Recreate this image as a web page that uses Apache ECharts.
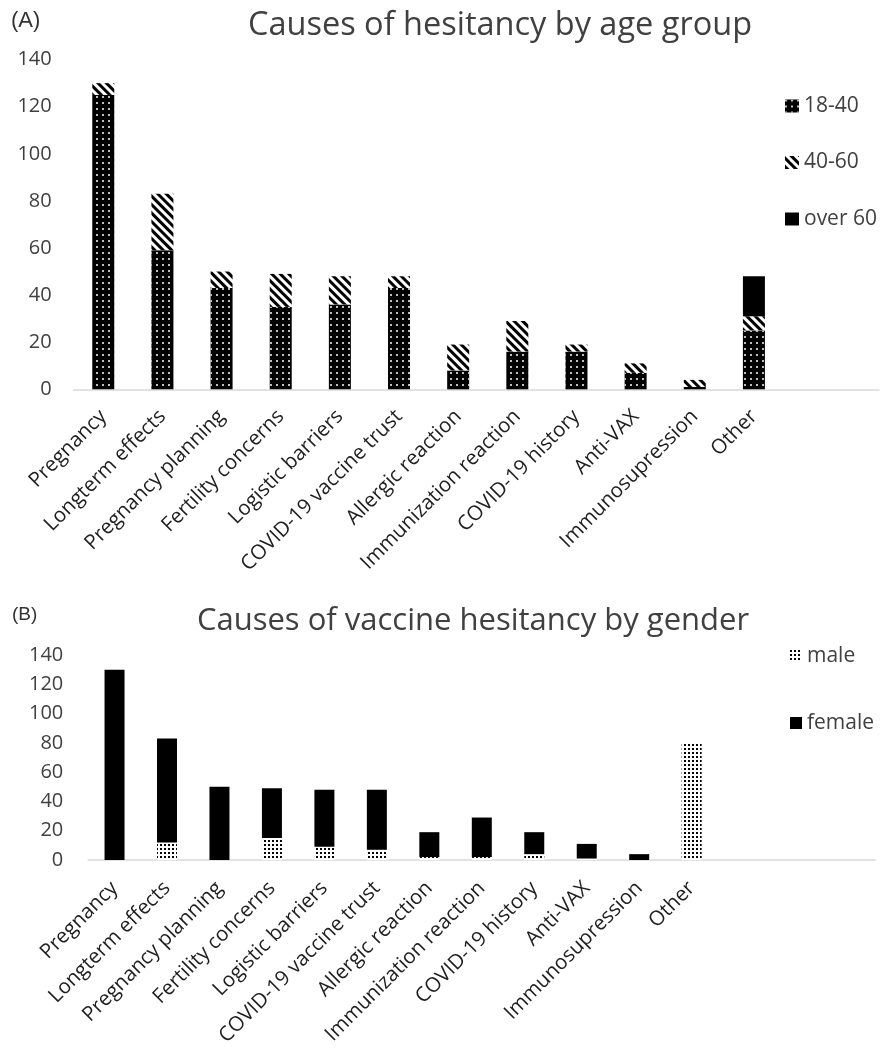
<!DOCTYPE html>
<html>
<head>
<meta charset="utf-8">
<script src="https://cdn.jsdelivr.net/npm/echarts@6/dist/echarts.min.js"></script>
<style>
html,body{margin:0;padding:0;background:#fff;}
#c{width:888px;height:1052px;}
</style>
</head>
<body>
<div id="c"></div>
<script>
// ---- data ----
var categories = ['Pregnancy','Longterm effects','Pregnancy planning','Fertility concerns','Logistic barriers','COVID-19 vaccine trust','Allergic reaction','Immunization reaction','COVID-19 history','Anti-VAX','Immunosupression','Other'];
var age18to40 = [125, 59, 43, 35, 36, 43, 8, 16, 16, 7, 1, 25];
var age40to60 = [5, 24, 7, 14, 12, 5, 11, 13, 3, 4, 3, 6];
var ageOver60 = [0, 0, 0, 0, 0, 0, 0, 0, 0, 0, 0, 17];
var male   = [0, 12, 0, 15, 9, 7, 2, 2, 4, 1, 0, 80];
var female = [130, 71, 50, 34, 39, 41, 17, 27, 15, 10, 4, 0];
var yTicks = [0, 20, 40, 60, 80, 100, 120, 140];
var titleA = 'Causes of hesitancy by age group';
var titleB = 'Causes of vaccine hesitancy by gender';
var seriesNamesA = ['18-40', '40-60', 'over 60'];
var seriesNamesB = ['male', 'female'];

var categoriesB = categories.concat(['', '', '']);

var FONT = 'Open Sans';
var dotDecal = {symbol:'circle', symbolSize:1, color:'#ffffff', backgroundColor:null, dashArrayX:[2,4], dashArrayY:[2,3.5], rotation:0};
var stripeDecal = {symbol:'rect', symbolSize:1, color:'#000000', backgroundColor:null, dashArrayX:[1,0], dashArrayY:[3,3], rotation:Math.PI/4};
var maleDecal = {symbol:'rect', symbolSize:1, color:'#000000', backgroundColor:null, dashArrayX:[1.5,1.5], dashArrayY:[1.5,1.5], rotation:0};

var gridA = {left:73.7, top:59.6, width:709.8, height:329.7};
var gridB = {left:88.3, top:655, width:787, height:205};

var yLabel = {fontFamily:FONT, fontSize:20, color:'#404040'};
var xLabel = {fontFamily:FONT, fontSize:20.5, color:'#1f1f1f', rotate:45, interval:0};

function legendAt(name, left, top, w, h){
  return {data:[{name:name, icon:'rect'}], left:left, top:top, orient:'vertical', padding:0, itemWidth:w, itemHeight:h,
    itemGap:0, selectedMode:false,
    textStyle:{fontFamily:FONT, fontSize:21, color:'#404040', lineHeight:22}};
}

var chart = echarts.init(document.getElementById('c'), null, {renderer:'canvas'});
chart.setOption({
  animation:false,
  backgroundColor:'#ffffff',
  title:[
    {text:'(A)', left:11, top:10, padding:0, textStyle:{fontFamily:'Liberation Sans', fontSize:22, fontWeight:'normal', color:'#333'}},
    {text:titleA, left:500, textAlign:'center', top:9, padding:0, textStyle:{fontFamily:FONT, fontSize:32.5, fontWeight:'normal', color:'#404040'}},
    {text:'(B)', left:12, top:605, padding:0, textStyle:{fontFamily:'Liberation Sans', fontSize:19, fontWeight:'normal', color:'#333'}},
    {text:titleB, left:473, textAlign:'center', top:606, padding:0, textStyle:{fontFamily:FONT, fontSize:31, fontWeight:'normal', color:'#404040'}}
  ],
  legend:[
    legendAt(seriesNamesA[0], 785, 95, 14, 13),
    legendAt(seriesNamesA[1], 785, 151.5, 14, 13),
    legendAt(seriesNamesA[2], 785, 208, 14, 13),
    legendAt(seriesNamesB[0], 790, 645, 12, 12),
    legendAt(seriesNamesB[1], 790, 712, 12, 12)
  ],
  grid:[
    gridA,
    {left:73.7, top:59.6, width:805.3, height:329.7},
    gridB
  ],
  xAxis:[
    {type:'category', gridIndex:0, data:categories, axisLine:{show:false}, axisTick:{show:false},
     axisLabel:Object.assign({margin:24}, xLabel)},
    {type:'value', gridIndex:1, min:0, max:1, axisLine:{show:true, lineStyle:{color:'#d9d9d9', width:1.5}},
     axisTick:{show:false}, axisLabel:{show:false}, splitLine:{show:false}},
    {type:'category', gridIndex:2, data:categoriesB, axisLine:{show:true, lineStyle:{color:'#d9d9d9', width:1.5}}, axisTick:{show:false},
     axisLabel:Object.assign({margin:25}, xLabel)}
  ],
  yAxis:[
    {type:'value', gridIndex:0, min:yTicks[0], max:yTicks[yTicks.length-1], interval:20, axisLine:{show:false}, axisTick:{show:false}, splitLine:{show:false},
     axisLabel:Object.assign({margin:22}, yLabel)},
    {type:'value', gridIndex:1, show:false, min:0, max:1},
    {type:'value', gridIndex:2, min:yTicks[0], max:yTicks[yTicks.length-1], interval:20, axisLine:{show:false}, axisTick:{show:false}, splitLine:{show:false},
     axisLabel:Object.assign({margin:25}, yLabel)}
  ],
  series:[
    {name:seriesNamesA[0], type:'bar', stack:'a', xAxisIndex:0, yAxisIndex:0, data:age18to40, barWidth:22,
     itemStyle:{color:'#000000', decal:dotDecal}},
    {name:seriesNamesA[1], type:'bar', stack:'a', xAxisIndex:0, yAxisIndex:0, data:age40to60, barWidth:22,
     itemStyle:{color:'#ffffff', decal:stripeDecal}},
    {name:seriesNamesA[2], type:'bar', stack:'a', xAxisIndex:0, yAxisIndex:0, data:ageOver60, barWidth:22,
     itemStyle:{color:'#000000'}},
    {name:seriesNamesB[0], type:'bar', stack:'b', xAxisIndex:2, yAxisIndex:2, data:male, barWidth:20,
     itemStyle:{color:'#ffffff', decal:maleDecal}},
    {name:seriesNamesB[1], type:'bar', stack:'b', xAxisIndex:2, yAxisIndex:2, data:female, barWidth:20,
     itemStyle:{color:'#000000'}}
  ]
});
</script>
</body>
</html>
